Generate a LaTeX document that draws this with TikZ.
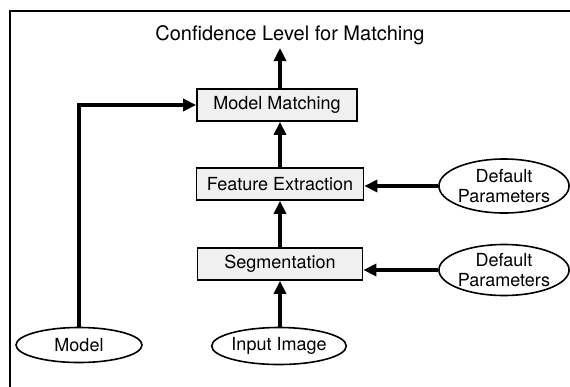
\documentclass[tikz,border=0pt]{standalone}
\usepackage{fontspec}
\setmainfont{TeX Gyre Heros}
\usetikzlibrary{arrows.meta,shapes.geometric}
\begin{document}
\begin{tikzpicture}[x=1pt, y=-1pt,
        font=\fontsize{18}{20}\selectfont,
        stage/.style={draw, line width=1.7pt, fill=black!6, minimum height=32pt, minimum width=164pt, inner sep=0pt},
        source/.style={draw, ellipse, line width=1.6pt, inner sep=0pt, align=center},
        flow/.style={line width=3.2pt, -{Triangle[length=13pt, width=12pt]}}]
            \useasboundingbox (0,0) rectangle (570,386);
            \clip (0,0) rectangle (570,386);
            \draw[line width=1.8pt] (10,400) -- (10,11) -- (580,11);

            \node[font=\fontsize{20}{22}\selectfont] (conf) at (290,35) {Confidence Level for Matching};
            \node[stage, minimum width=160pt] (match) at (277,105) {Model Matching};
            \node[stage, minimum width=167pt] (feat) at (280,184) {Feature Extraction};
            \node[stage, minimum width=165pt] (seg) at (280,264) {Segmentation};

            \node[source, minimum width=129pt, minimum height=54pt] (defA) at (504,186) {Default\\Parameters};
            \node[source, minimum width=129pt, minimum height=51pt] (defB) at (504,270) {Default\\Parameters};
            \node[source, minimum width=126pt, minimum height=35pt] (model) at (79,345) {Model};
            \node[source, minimum width=134pt, minimum height=37pt] (input) at (279,346) {Input Image};

            \draw[flow] (match.north -| 280,0) -- (280,48);
            \draw[flow] (feat.north) -- (match.south -| feat.north);
            \draw[flow] (seg.north) -- (feat.south);
            \draw[flow] (input.north -| seg.north) -- (seg.south);
            \draw[flow] (defA.west) -- (feat.east |- defA.west);
            \draw[flow] (defB.west) -- (seg.east |- defB.west);
            \draw[flow] (model.north) |- (match.west);
        \end{tikzpicture}
\end{document}
